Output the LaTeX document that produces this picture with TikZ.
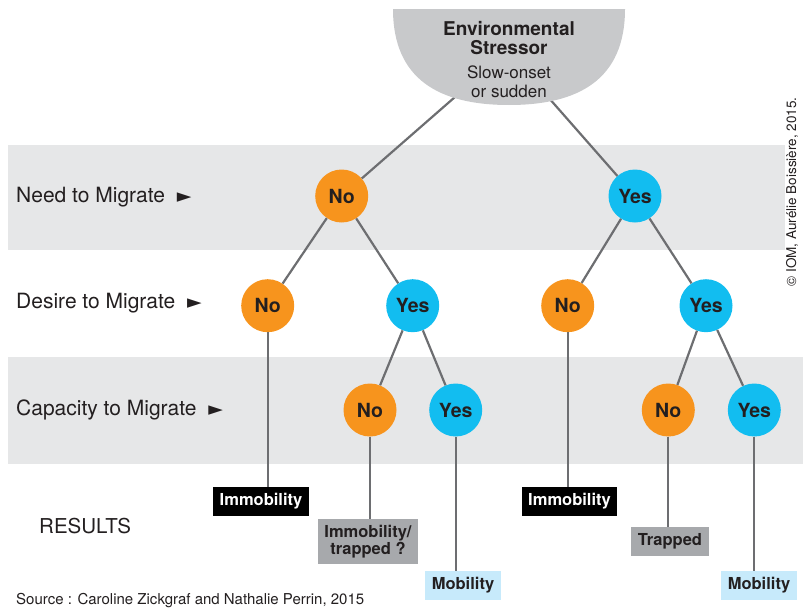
\documentclass[tikz,border=0pt]{standalone}
\usepackage{fontspec}
\setmainfont{TeX Gyre Heros}
\newfontfamily\symfont{DejaVu Sans}

\definecolor{bandgray}{HTML}{E6E7E8}
\definecolor{stressgray}{HTML}{C8C9CB}
\definecolor{noorange}{HTML}{F7941D}
\definecolor{yescyan}{HTML}{12BDF0}
\definecolor{linegray}{HTML}{6D6E71}
\definecolor{boxgray}{HTML}{A7A9AC}
\definecolor{mobblue}{HTML}{C7EAFB}
\definecolor{txtdark}{HTML}{231F20}

\tikzset{
  answer/.style={circle, minimum size=53pt, inner sep=0pt, text=txtdark,
    font=\fontsize{19.5}{20}\selectfont\bfseries},
  nocirc/.style={answer, fill=noorange},
  yescirc/.style={answer, fill=yescyan},
  branch/.style={draw=linegray, line width=2.2pt},
  result/.style={inner xsep=6.5pt, inner ysep=6pt, minimum height=29pt, align=center,
    text=txtdark, font=\fontsize{16.5}{17}\selectfont\bfseries},
  rowlabel/.style={anchor=base west, inner sep=0pt, text=txtdark,
    font=\fontsize{21}{24}\selectfont},
}
\newcommand{\pointer}{\hspace{12pt}{\symfont\fontsize{19}{19}\selectfont ►}}

\begin{document}
\begin{tikzpicture}[x=1pt, y=-1pt]
    \useasboundingbox (0,0) rectangle (803,613);

    % Background bands
    \fill[bandgray] (8,145) rectangle (785,250);
    \fill[bandgray] (8,357) rectangle (803,464);

    % Row labels
    \node[rowlabel] (needlbl) at (16,202) {Need to Migrate\pointer};
    \node[rowlabel] (desirelbl) at (16,308.5) {Desire to Migrate\pointer};
    \node[rowlabel] (capacitylbl) at (16,415) {Capacity to Migrate\pointer};
    \node[rowlabel, font=\fontsize{20.5}{24}\selectfont] (resultslbl) at (39,533) {RESULTS};

    % Answer circles
    \node[nocirc] (needno) at (341.7,196) {No};
    \node[yescirc] (needyes) at (635,196) {Yes};
    \node[nocirc] (desno1) at (267.7,305.7) {No};
    \node[yescirc] (desyes1) at (412.7,305.7) {Yes};
    \node[nocirc] (desno2) at (567.7,305.7) {No};
    \node[yescirc] (desyes2) at (706,305.7) {Yes};
    \node[nocirc] (capno1) at (370,410) {No};
    \node[yescirc] (capyes1) at (455.7,410) {Yes};
    \node[nocirc] (capno2) at (668.3,410) {No};
    \node[yescirc] (capyes2) at (754.3,410) {Yes};

    % Result boxes
    \node[result, fill=black, text=white] (immob1) at (261,501.5) {Immobility};
    \node[result, fill=boxgray] (immtrap) at (368,541.5) {Immobility/\\trapped ?};
    \node[result, fill=mobblue] (mobil1) at (463,585.5) {Mobility};
    \node[result, fill=black, text=white] (immob2) at (569.5,501.5) {Immobility};
    \node[result, fill=boxgray] (trapped) at (670,541.5) {Trapped};
    \node[result, fill=mobblue] (mobil2) at (759,585.5) {Mobility};

    % Branches
    \coordinate (stressL) at (455,97);
    \coordinate (stressR) at (548,97);
    \draw[branch] (stressL) -- (needno);
    \draw[branch] (stressR) -- (needyes);
    \draw[branch] (needno) -- (desno1);
    \draw[branch] (needno) -- (desyes1);
    \draw[branch] (needyes) -- (desno2);
    \draw[branch] (needyes) -- (desyes2);
    \draw[branch] (desyes1) -- (capno1);
    \draw[branch] (desyes1) -- (capyes1);
    \draw[branch] (desyes2) -- (capno2);
    \draw[branch] (desyes2) -- (capyes2);
    \foreach \a/\b in {desno1/immob1, capno1/immtrap, capyes1/mobil1,
                       desno2/immob2, capno2/trapped, capyes2/mobil2}{
        \draw[branch] (\a.south) -- (\a.south |- \b.north);
    }

    % Environmental stressor
    \fill[stressgray] (393,9) .. controls (393,80) and (440,105) .. (509,105)
        .. controls (578,105) and (625,80) .. (625,9) -- cycle;
    \node[align=center, inner sep=0pt, text=txtdark, font=\fontsize{19}{19}\selectfont\bfseries]
        (stresstitle) at (509,38.5) {Environmental\\Stressor};
    \node[align=center, inner sep=0pt, text=txtdark, font=\fontsize{17}{19}\selectfont]
        (stressnote) at (509,81.5) {Slow-onset\\or sudden};

    % Credits
    \node[rowlabel, font=\fontsize{15}{18}\selectfont] (source) at (16,604)
        {Source : Caroline Zickgraf and Nathalie Perrin, 2015};
    \node[rotate=90, inner sep=0pt, text=txtdark, font=\fontsize{13.5}{16}\selectfont]
        (credit) at (792,192) {© IOM, Aurélie Boissière, 2015.};

\end{tikzpicture}
\end{document}
